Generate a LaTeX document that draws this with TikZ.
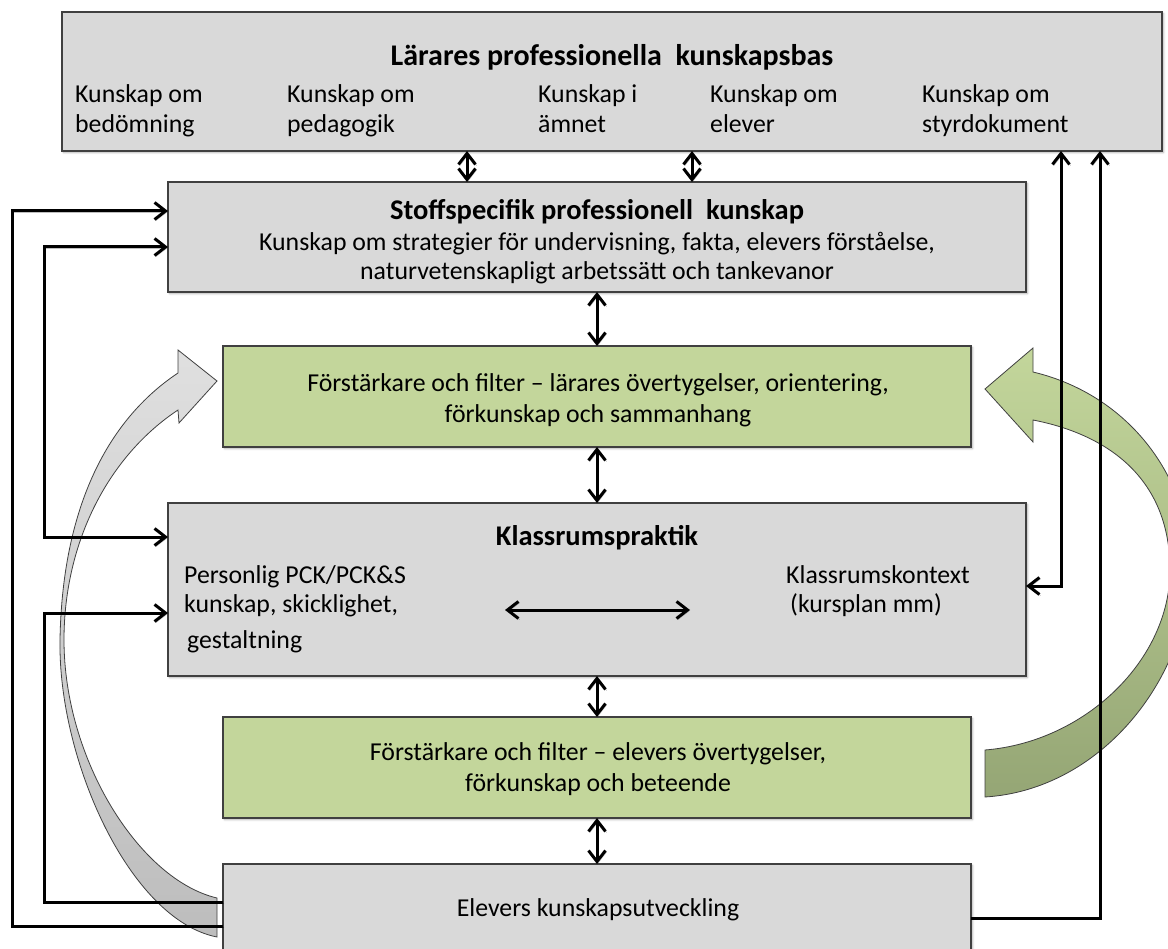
\documentclass[tikz,border=0pt]{standalone}
\usepackage{fontspec}
\setmainfont{Carlito}
\usetikzlibrary{arrows.meta,backgrounds,shadows.blur}
\definecolor{boxgray}{HTML}{D9D9D9}
\definecolor{boxgreen}{HTML}{C3D69B}
\definecolor{edge}{HTML}{404040}
\definecolor{ribbongray}{HTML}{D2D2D2}
\definecolor{leafdark}{HTML}{95A675}

\begin{document}
\begin{tikzpicture}[x=1pt,y=-1pt,
  box/.style={draw=edge, line width=1.1pt, inner sep=0pt, outer sep=0pt,
    blur shadow={shadow xshift=1.5pt, shadow yshift=-1.5pt, shadow blur radius=2pt, shadow opacity=35}},
  graybox/.style={box, fill=boxgray},
  greenbox/.style={box, fill=boxgreen},
  conn/.style={line width=3pt, >={Straight Barb[length=11pt,width=17pt]},
    preaction={draw=black, opacity=0.25, transform canvas={shift={(1.3pt,-1.3pt)}}}},
  body/.style={inner sep=0pt, font=\fontsize{25.8}{30}\selectfont},
  head/.style={inner sep=0pt, font=\fontsize{28.5}{33}\selectfont\bfseries},
  bighead/.style={inner sep=0pt, font=\fontsize{30}{35}\selectfont\bfseries},
  bigarrow/.style={draw=edge, line width=0.8pt},
]
\clip (0,0) rectangle (1168,949);

% boxes
\node[graybox, minimum width=1100pt, minimum height=139pt] (top) at (612,81.5) {};
\node[graybox, minimum width=858pt, minimum height=110pt] (stoff) at (597,237) {};
\node[greenbox, minimum width=748pt, minimum height=101pt] (g1) at (597,396.5) {};
\node[graybox, minimum width=858pt, minimum height=173pt] (klass) at (597,589.5) {};
\node[greenbox, minimum width=748pt, minimum height=101pt] (g2) at (597,767.5) {};
\node[graybox, minimum width=748pt, minimum height=110pt] (bot) at (597,919) {};

% texts
\node[bighead, anchor=base] (tTitle) at (612,66) {Lärares professionella\ \ kunskapsbas};
\node[body, anchor=base west] (k1a) at (75,103) {Kunskap om};
\node[body, anchor=base west] (k1b) at (75,133) {bedömning};
\node[body, anchor=base west] (k2a) at (287,103) {Kunskap om};
\node[body, anchor=base west] (k2b) at (287,133) {pedagogik};
\node[body, anchor=base west] (k3a) at (538,103) {Kunskap i};
\node[body, anchor=base west] (k3b) at (538,133) {ämnet};
\node[body, anchor=base west] (k4a) at (710,103) {Kunskap om};
\node[body, anchor=base west] (k4b) at (710,133) {elever};
\node[body, anchor=base west] (k5a) at (922,103) {Kunskap om};
\node[body, anchor=base west] (k5b) at (922,133) {styrdokument};

\node[head, anchor=base] (sTitle) at (597,220) {Stoffspecifik professionell\ \ kunskap};
\node[body, anchor=base] (s1) at (597,251) {Kunskap om strategier för undervisning, fakta, elevers förståelse,};
\node[body, anchor=base] (s2) at (597,280) {naturvetenskapligt arbetssätt och tankevanor};

\node[body, anchor=base] (f1) at (598,392) {Förstärkare och filter – lärares övertygelser, orientering,};
\node[body, anchor=base] (f2) at (598,423) {förkunskap och sammanhang};

\node[head, anchor=base] (kTitle) at (597,545) {Klassrumspraktik};
\node[body, anchor=base west] (p1) at (184,583) {Personlig PCK/PCK\&S};
\node[body, anchor=base west] (p2) at (184,612) {kunskap, skicklighet,};
\node[body, anchor=base west] (p3) at (187,648) {gestaltning};
\node[body, anchor=base west] (r1) at (786,583) {Klassrumskontext};
\node[body, anchor=base west] (r2) at (790,612) {(kursplan mm)};

\node[body, anchor=base] (e1) at (598,760) {Förstärkare och filter – elevers övertygelser,};
\node[body, anchor=base] (e2) at (598,791) {förkunskap och beteende};

\node[body, anchor=base] (b1) at (598,916) {Elevers kunskapsutveckling};

% broad curved arrows behind everything
\begin{scope}[on background layer]
  \clip (0,0) rectangle (1168,949);
  \draw[bigarrow, top color=ribbongray!70, bottom color=ribbongray!90!black]
    (217,937) .. controls (130,920) and (58,760) .. (60,640)
              .. controls (62,520) and (100,425) .. (178,373)
    -- (178,350) -- (217,381) -- (179,423) -- (178,410)
              .. controls (110,455) and (64,540) .. (64,640)
              .. controls (64,760) and (140,880) .. (217,898) -- cycle;
  \draw[bigarrow, top color=boxgreen, bottom color=leafdark]
    (985,797) .. controls (1100,790) and (1188,680) .. (1190,570)
              .. controls (1192,480) and (1130,395) .. (1033,372)
    -- (1033,348) -- (985,389) -- (1033,442) -- (1033,420)
              .. controls (1110,435) and (1170,480) .. (1170,570)
              .. controls (1170,660) and (1085,742) .. (985,750) -- cycle;
\end{scope}

% guide positions for connectors
\coordinate (xL) at (12,0);
\coordinate (xM) at (44,0);
\coordinate (xQ) at (1061,0);
\coordinate (xR) at (1100,0);
\coordinate (c1) at (467,0);
\coordinate (c2) at (692,0);
\coordinate (yS1) at (0,211);
\coordinate (yS2) at (0,247);
\coordinate (yK1) at (0,537);
\coordinate (yK2) at (0,613);
\coordinate (yK3) at (0,586);
\coordinate (yB1) at (0,902);
\coordinate (yB2) at (0,926);
\coordinate (yB3) at (0,918);
\coordinate (h1) at (505,610);
\coordinate (h2) at (690,610);

% connectors
\draw[conn,<->] (top.south -| c1) -- (stoff.north -| c1);
\draw[conn,<->] (top.south -| c2) -- (stoff.north -| c2);
\draw[conn,<->] (stoff.south) -- (g1.north);
\draw[conn,<->] (g1.south) -- (klass.north);
\draw[conn,<->] (klass.south) -- (g2.north);
\draw[conn,<->] (g2.south) -- (bot.north);
\draw[conn,<->] (h1) -- (h2);

\draw[conn,->] (bot.west |- yB2) -| (xL |- yS1) -- (stoff.west |- yS1);
\draw[conn,<->] (stoff.west |- yS2) -| (xM |- yK1) -- (klass.west |- yK1);
\draw[conn,->] (bot.west |- yB1) -| (xM |- yK2) -- (klass.west |- yK2);
\draw[conn,->] (bot.east |- yB3) -| (xR |- top.south);
\draw[conn,<->] (top.south -| xQ) |- (klass.east |- yK3);
\end{tikzpicture}
\end{document}
